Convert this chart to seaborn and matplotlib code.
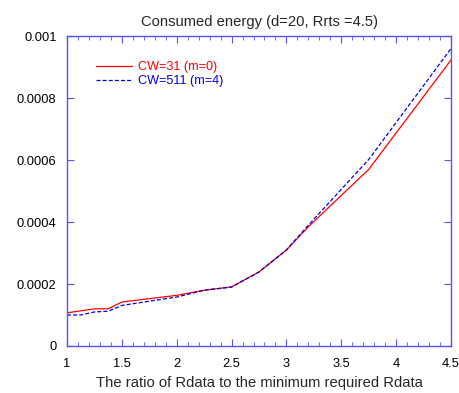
import matplotlib
matplotlib.use("Agg")
import matplotlib.pyplot as plt
import seaborn as sns
import pandas as pd
from matplotlib.ticker import MultipleLocator

sns.set_style("white")
plt.rcParams['font.family'] = ['Liberation Sans', 'DejaVu Sans']

x_red = [1.0, 1.25, 1.375, 1.5, 2.0, 2.25, 2.5, 2.75, 3.0, 3.2, 3.75, 4.5]
y_red = [0.000107, 0.00012, 0.00012, 0.000142, 0.0001635, 0.00018, 0.000191,
         0.000239, 0.00031, 0.000385, 0.00057, 0.000923]
x_blue = [1.0, 1.125, 1.25, 1.375, 1.5, 2.0, 2.25, 2.5, 2.75, 3.0, 3.2, 3.75, 4.5]
y_blue = [0.0001, 0.0001, 0.00011, 0.000112, 0.000131, 0.000158, 0.00018, 0.00019,
          0.000239, 0.00031, 0.00039, 0.000602, 0.00096]
label_red = "CW=31 (m=0)"
label_blue = "CW=511 (m=4)"
xticks = [1, 1.5, 2, 2.5, 3, 3.5, 4, 4.5]
xtick_labels = ["1", "1.5", "2", "2.5", "3", "3.5", "4", "4.5"]
yticks = [0, 0.0002, 0.0004, 0.0006, 0.0008, 0.001]
ytick_labels = ["0", "0.0002", "0.0004", "0.0006", "0.0008", "0.001"]

df = pd.concat([
    pd.DataFrame({"x": x_red, "y": y_red, "s": label_red}),
    pd.DataFrame({"x": x_blue, "y": y_blue, "s": label_blue}),
])

fig = plt.figure(figsize=(4.59, 3.93), dpi=100)
ax = fig.add_axes([0.146, 0.1196, 0.8366, 0.7884])
sns.lineplot(data=df, x="x", y="y", hue="s", style="s",
             palette={label_red: "#ff0000", label_blue: "#0000dd"},
             dashes={label_red: "", label_blue: (3.2, 1.7)},
             linewidth=0.9, ax=ax, sort=False)

ax.set_xlim(1, 4.5)
ax.set_ylim(0, 0.001)
ax.xaxis.set_minor_locator(MultipleLocator(0.1))
ax.set_xticks(xticks)
ax.set_xticklabels(xtick_labels)
ax.set_yticks(yticks)
ax.set_yticklabels(ytick_labels)

axcol = "#5555ee"
for sp in ax.spines.values():
    sp.set_color(axcol)
    sp.set_linewidth(1.0)
ax.tick_params(which="both", direction="in", top=True, right=True, bottom=True, left=True,
               color=axcol, labelsize=9.3, labelcolor="black")
ax.tick_params(which="major", length=5)
ax.tick_params(which="minor", length=3)
ax.tick_params(axis="x", which="major", pad=9)
ax.tick_params(axis="y", which="major", pad=7.5)

ax.set_xlabel("The ratio of Rdata to the minimum required Rdata", fontsize=10.6, labelpad=4)
ax.set_ylabel("")
ax.set_title("Consumed energy (d=20, Rrts =4.5)", fontsize=10.6, pad=7)

leg = ax.legend(loc="upper left", bbox_to_anchor=(0.047, 0.955), frameon=False,
                fontsize=9.1, handlelength=2.85, handletextpad=0.4, labelspacing=0.15)
for txt, line in zip(leg.get_texts(), leg.get_lines()):
    txt.set_color(line.get_color())

fig.savefig("out.png", dpi=100)
